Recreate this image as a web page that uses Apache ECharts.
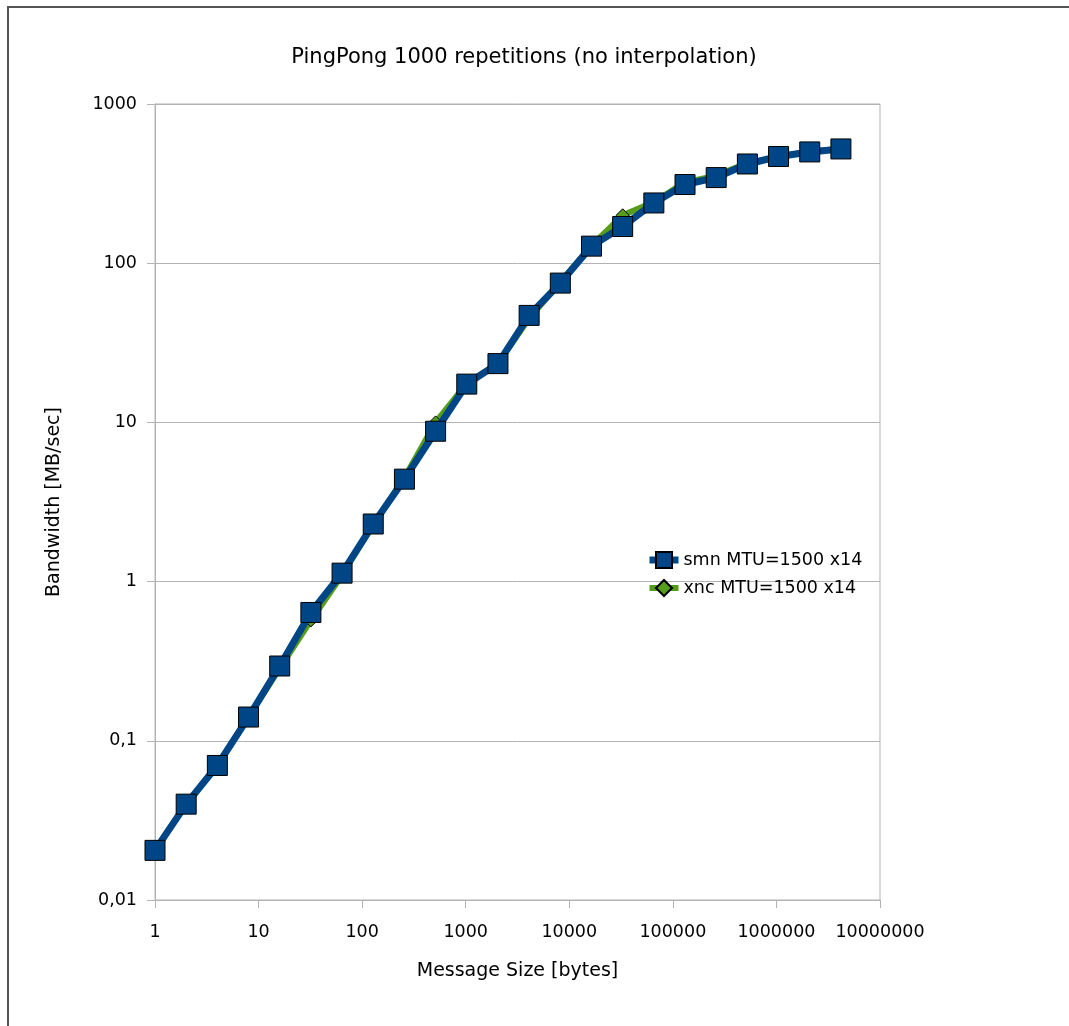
<!DOCTYPE html>
<html>
<head>
<meta charset="utf-8">
<script src="https://cdn.jsdelivr.net/npm/echarts@6/dist/echarts.min.js"></script>
<style>
html,body{margin:0;padding:0;background:#fff;}
#frame{position:absolute;left:7px;top:6px;width:1062px;height:1020px;border-left:2px solid #555;border-top:2px solid #555;box-sizing:border-box;}
#chart{position:absolute;left:0;top:0;width:1069px;height:1026px;}
</style>
</head>
<body>
<div id="frame"></div>
<div id="chart"></div>
<script>
const messageSizes = [1,2,4,8,16,32,64,128,256,512,1024,2048,4096,8192,16384,32768,65536,131072,262144,524288,1048576,2097152,4194304];
const smnBandwidth = [0.0205,0.040,0.070,0.141,0.295,0.64,1.13,2.30,4.4,8.8,17.4,23.4,47,75,128,170,239,312,345,420,468,500,522];
const xncBandwidth = [0.0205,0.040,0.070,0.141,0.285,0.57,1.10,2.28,4.5,10.0,17.6,23.4,45,76,129,200,242,322,355,425,465,505,522];
const seriesNames = ['smn MTU=1500 x14','xnc MTU=1500 x14'];
const yTickLabels = {0.01:'0,01',0.1:'0,1',1:'1',10:'10',100:'100',1000:'1000'};

const chart = echarts.init(document.getElementById('chart'));
const font = 'DejaVu Sans';
const pair = (xs, ys) => xs.map((x,i)=>[x, ys[i]]);
chart.setOption({
  animation:false,
  backgroundColor:'transparent',
  textStyle:{fontFamily:font},
  title:{text:'PingPong 1000 repetitions (no interpolation)',left:519,top:42,textAlign:'center',
    textStyle:{fontFamily:font,fontSize:21,fontWeight:'normal',color:'#000'}},
  grid:{left:155,right:189,top:104,bottom:126,show:true,borderColor:'#b3b3b3',borderWidth:1,backgroundColor:'transparent'},
  legend:{orient:'vertical',left:641,top:546,itemGap:10,itemWidth:29,itemHeight:20,
    data:[
      {name:seriesNames[0],lineStyle:{width:7}},
      {name:seriesNames[1],lineStyle:{width:6}}
    ],
    textStyle:{fontFamily:font,fontSize:17.5,color:'#000'}},
  xAxis:{type:'log',logBase:10,min:1,max:10000000,
    name:'Message Size [bytes]',nameLocation:'middle',nameGap:62,
    nameTextStyle:{fontFamily:font,fontSize:19,color:'#000'},
    axisLine:{lineStyle:{color:'#b3b3b3',width:1}},
    axisTick:{show:true,length:8,lineStyle:{color:'#b3b3b3'}},
    minorTick:{show:false},
    splitLine:{show:false},
    axisLabel:{fontFamily:font,fontSize:17.5,color:'#000',margin:23,formatter:v=>String(v)}},
  yAxis:{type:'log',logBase:10,min:0.01,max:1000,
    name:'Bandwidth [MB/sec]',nameLocation:'middle',nameGap:91,
    nameTextStyle:{fontFamily:font,fontSize:19,color:'#000'},
    axisLine:{show:true,lineStyle:{color:'#b3b3b3',width:1}},
    axisTick:{show:true,length:8,lineStyle:{color:'#b3b3b3'}},
    splitLine:{show:true,lineStyle:{color:'#b3b3b3',width:1}},
    axisLabel:{fontFamily:font,fontSize:17.5,color:'#000',margin:18,
      formatter:v=>{const k=Number(v.toPrecision(3));return yTickLabels[k]!==undefined?yTickLabels[k]:String(v).replace('.',',');}}},
  series:[
    {name:seriesNames[0],type:'line',data:pair(messageSizes,smnBandwidth),z:4,
      symbol:'rect',symbolSize:20,
      lineStyle:{color:'#004586',width:7},
      itemStyle:{color:'#004586',borderColor:'#000',borderWidth:1}},
    {name:seriesNames[1],type:'line',data:pair(messageSizes,xncBandwidth),z:3,
      symbol:'diamond',symbolSize:13,
      lineStyle:{color:'#579d1c',width:6},
      itemStyle:{color:'#579d1c',borderColor:'#000',borderWidth:1}}
  ]
});
</script>
</body>
</html>
